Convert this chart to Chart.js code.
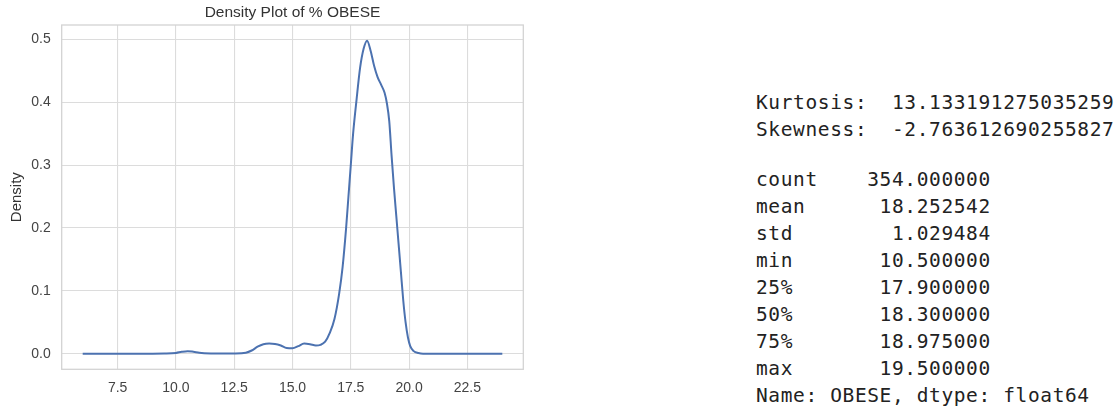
<!DOCTYPE html>
<html>
<head>
<meta charset="utf-8">
<title>Density Plot of % OBESE</title>
<script src="https://cdn.jsdelivr.net/npm/chart.js@4"></script>
<style>
    body {
        margin: 0;
        background: #fff;
        width: 1120px;
        height: 412px;
        overflow: hidden;
        position: relative;
    }
    #chartBox {
        position: absolute;
        left: 0;
        top: 0;
        width: 560px;
        height: 412px;
    }
    .stats {
        position: absolute;
        left: 756px;
        margin: 0;
        font-family: "DejaVu Sans Mono", monospace;
        font-size: 19.5px;
        line-height: 27px;
        letter-spacing: 0.62px;
        color: #222;
    }
</style>
</head>
<body>
<div id="chartBox"><canvas id="densityChart"></canvas></div>
<pre class="stats" id="momentsText" style="top: 89px;"></pre>
<pre class="stats" id="describeText" style="top: 166px;"></pre>
<script>
// density curve
const xValues = [6.0, 7.0, 8.0, 9.0, 9.5, 10.0, 10.25, 10.5, 10.75, 11.0, 11.5, 12.0, 12.5,
    13.0, 13.25, 13.5, 13.75, 14.0, 14.25, 14.5, 14.75, 15.0, 15.25, 15.5, 15.75, 16.0,
    16.2, 16.4, 16.6, 16.8, 17.0, 17.15, 17.3, 17.4, 17.5, 17.6, 17.75, 17.9, 18.05, 18.2,
    18.35, 18.5, 18.65, 18.8, 18.95, 19.05, 19.15, 19.25, 19.35, 19.45, 19.55, 19.65,
    19.75, 19.85, 19.95, 20.05, 20.2, 20.4, 20.6, 21.0, 22.0, 23.0, 24.0];
const densityValues = [0.0, 0.0, 0.0, 0.0, 0.0002, 0.0012, 0.003, 0.004, 0.003, 0.0015, 0.0004, 0.0002, 0.0003,
    0.0015, 0.005, 0.011, 0.015, 0.016, 0.0155, 0.013, 0.009, 0.0085, 0.012, 0.016, 0.015, 0.013,
    0.014, 0.019, 0.033, 0.055, 0.095, 0.138, 0.2, 0.25, 0.3, 0.35, 0.405, 0.455, 0.485, 0.498,
    0.482, 0.458, 0.44, 0.428, 0.415, 0.398, 0.37, 0.315, 0.265, 0.22, 0.175, 0.13,
    0.085, 0.05, 0.026, 0.012, 0.004, 0.001, 0.0, 0.0, 0.0, 0.0, 0.0];
const xTicks = [7.5, 10.0, 12.5, 15.0, 17.5, 20.0, 22.5];
const yTicks = [0.0, 0.1, 0.2, 0.3, 0.4, 0.5];

// printed output next to the plot
const momentLabels = ['Kurtosis:', 'Skewness:'];
const momentValues = ['13.133191275035259', '-2.763612690255827'];
const statLabels = ['count', 'mean', 'std', 'min', '25%', '50%', '75%', 'max'];
const statValues = ['354.000000', '18.252542', '1.029484', '10.500000', '17.900000', '18.300000', '18.975000', '19.500000'];
const seriesInfo = 'Name: OBESE, dtype: float64';

const tickFont = { family: 'Liberation Sans, Arial, sans-serif', size: 14 };
const labelFont = { family: 'Liberation Sans, Arial, sans-serif', size: 15 };

// matplotlib style box around the axes
const frameBorder = {
    id: 'frameBorder',
    beforeDatasetsDraw(chart) {
        const { ctx, chartArea } = chart;
        ctx.save();
        ctx.strokeStyle = '#d3d3d3';
        ctx.lineWidth = 1.3;
        ctx.strokeRect(chartArea.left, chartArea.top, chartArea.right - chartArea.left, chartArea.bottom - chartArea.top);
        ctx.restore();
    }
};

function initDensityChart() {
    const ctx = document.getElementById('densityChart').getContext('2d');
    new Chart(ctx, {
        type: 'line',
        data: {
            datasets: [{
                data: xValues.map((x, i) => ({ x: x, y: densityValues[i] })),
                borderColor: '#4c72b0',
                borderWidth: 2,
                pointRadius: 0,
                fill: false,
                cubicInterpolationMode: 'monotone'
            }]
        },
        options: {
            responsive: true,
            maintainAspectRatio: false,
            animation: false,
            layout: {
                padding: { left: 0, right: 36.7, top: 0, bottom: 0 }
            },
            plugins: {
                legend: { display: false },
                tooltip: { enabled: false },
                title: {
                    display: true,
                    text: 'Density Plot of % OBESE',
                    fullSize: false,
                    color: '#333',
                    font: { family: labelFont.family, size: 15.5, weight: 'normal' },
                    padding: { top: 3.5, bottom: 2.9 }
                }
            },
            scales: {
                x: {
                    type: 'linear',
                    min: 5.1,
                    max: 24.9,
                    afterBuildTicks: scale => { scale.ticks = xTicks.map(v => ({ value: v })); },
                    afterFit: scale => { scale.height = 42.7; },
                    grid: { color: '#dcdcdc', lineWidth: 1.1, drawTicks: false },
                    border: { display: false },
                    ticks: {
                        padding: 10,
                        color: '#444',
                        font: tickFont,
                        maxRotation: 0,
                        autoSkip: false,
                        callback: v => Number(v).toFixed(1)
                    }
                },
                y: {
                    type: 'linear',
                    min: -0.0249,
                    max: 0.5229,
                    afterBuildTicks: scale => { scale.ticks = yTicks.map(v => ({ value: v })); },
                    afterFit: scale => { scale.width = 61.7; },
                    grid: { color: '#dcdcdc', lineWidth: 1.1, drawTicks: false },
                    border: { display: false },
                    title: {
                        display: true,
                        text: 'Density',
                        color: '#333',
                        font: labelFont,
                        padding: { top: 8, bottom: 0 }
                    },
                    ticks: {
                        padding: 11,
                        color: '#444',
                        font: tickFont,
                        callback: v => Number(v).toFixed(1)
                    }
                }
            }
        },
        plugins: [frameBorder]
    });
}

function fillStatsText() {
    document.getElementById('momentsText').textContent =
        momentLabels.map((label, i) => label + '  ' + momentValues[i]).join('\n');

    const rows = statLabels.map((label, i) => label + statValues[i].padStart(19 - label.length));
    rows.push(seriesInfo);
    document.getElementById('describeText').textContent = rows.join('\n');
}

fillStatsText();
initDensityChart();
</script>
</body>
</html>
